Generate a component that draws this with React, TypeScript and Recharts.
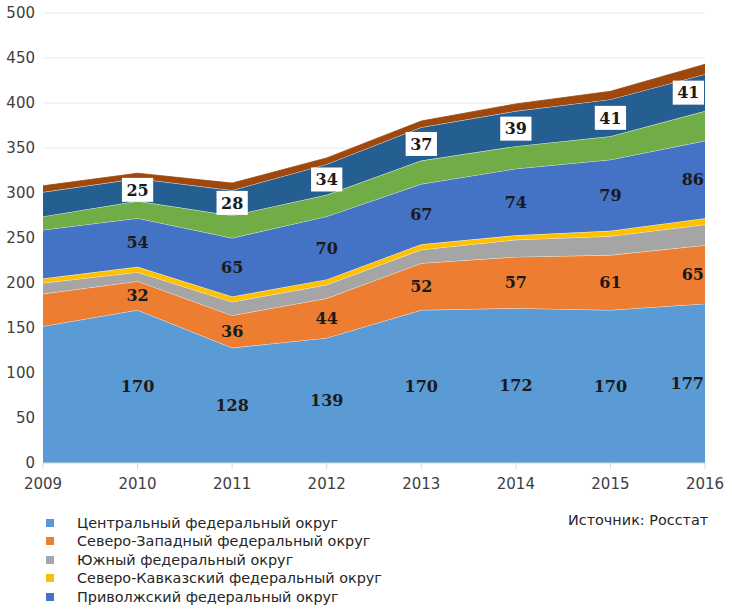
import React from 'react';
import { AreaChart, Area, XAxis, YAxis, CartesianGrid, LabelList } from 'recharts';

const years = ['2009', '2010', '2011', '2012', '2013', '2014', '2015', '2016'];
const central = [152, 170, 128, 139, 170, 172, 170, 177];
const northWest = [36, 32, 36, 44, 52, 57, 61, 65];
const south = [12, 10, 15, 15, 15, 19, 21, 23];
const northCaucasus = [5, 6, 6, 6, 6, 5, 6, 7];
const volga = [54, 54, 65, 70, 67, 74, 79, 86];
const ural = [15, 19, 25, 24, 26, 25, 26, 33];
const siberia = [27, 25, 28, 34, 37, 39, 41, 41];
const farEast = [7, 6, 8, 7, 7, 8, 9, 11];
const yTicks = [0, 50, 100, 150, 200, 250, 300, 350, 400, 450, 500];

const legendNames = [
  'Центральный федеральный округ',
  'Северо-Западный федеральный округ',
  'Южный федеральный округ',
  'Северо-Кавказский федеральный округ',
  'Приволжский федеральный округ',
];
const legendColors = ['#5B9BD5', '#ED7D31', '#A5A5A5', '#FFC000', '#4472C4'];

const data = years.map((y, i) => ({
  year: y,
  central: central[i],
  northWest: northWest[i],
  south: south[i],
  northCaucasus: northCaucasus[i],
  volga: volga[i],
  ural: ural[i],
  siberia: siberia[i],
  farEast: farEast[i],
}));

const W = 732;
const H = 616;
const M = { top: 13, right: 27, left: 0, bottom: 123 };
const Y_AXIS_W = 43;
const X_AXIS_H = 30;
const PLOT_H = H - M.top - M.bottom - X_AXIS_H;
const PLOT_RIGHT = W - M.right;
const Y_MAX = 500;
const LABEL_FS = 16;
const DIGIT_W = LABEL_FS * 0.696;

const makeLabel = (vals: number[], boxed: boolean) => (props: any) => {
  const { x, y, index } = props;
  if (index === 0 || x == null || y == null) return null;
  const v = vals[index];
  const cy = y + (v * (PLOT_H / Y_MAX)) / 2;
  const text = String(v);
  const w = text.length * DIGIT_W;
  const pad = boxed ? 4.5 : 0;
  let cx = x;
  if (cx + w / 2 + pad > PLOT_RIGHT - 1) cx = PLOT_RIGHT - 1 - w / 2 - pad;
  return (
    <g key={`l-${index}`}>
      {boxed && <rect x={cx - w / 2 - pad} y={cy - 12} width={w + pad * 2} height={24} fill="#ffffff" />}
      <text
        x={cx}
        y={cy}
        dy="0.36em"
        textAnchor="middle"
        fontFamily="DejaVu Serif"
        fontWeight="bold"
        fontSize={LABEL_FS}
        fill="#1a1a1a"
      >
        {text}
      </text>
    </g>
  );
};

const textFont = '"DejaVu Sans", Verdana, sans-serif';

export default function App() {
  return (
    <div style={{ position: 'absolute', left: 0, top: 0, width: W, height: H, background: '#fff' }}>
      <AreaChart width={W} height={H} data={data} margin={M}>
        <CartesianGrid vertical={false} stroke="#e8e8e8" />
        <XAxis
          dataKey="year"
          height={X_AXIS_H}
          stroke="#d9d9d9"
          tickSize={6}
          tickMargin={9}
          tick={{ fill: '#404040', fontSize: 15, fontFamily: textFont }}
          interval={0}
        />
        <YAxis
          width={Y_AXIS_W}
          domain={[0, Y_MAX]}
          ticks={yTicks}
          axisLine={false}
          tickLine={false}
          tick={{ fill: '#404040', fontSize: 15, fontFamily: textFont }}
          interval={0}
        />
        <Area type="linear" dataKey="central" stackId="1" fill="#5B9BD5" fillOpacity={1} stroke="#ffffff" strokeWidth={0.8} isAnimationActive={false}>
          <LabelList dataKey="central" content={makeLabel(central, false)} />
        </Area>
        <Area type="linear" dataKey="northWest" stackId="1" fill="#ED7D31" fillOpacity={1} stroke="#ffffff" strokeWidth={0.8} isAnimationActive={false}>
          <LabelList dataKey="northWest" content={makeLabel(northWest, false)} />
        </Area>
        <Area type="linear" dataKey="south" stackId="1" fill="#A5A5A5" fillOpacity={1} stroke="#ffffff" strokeWidth={0.8} isAnimationActive={false} />
        <Area type="linear" dataKey="northCaucasus" stackId="1" fill="#FFC000" fillOpacity={1} stroke="#ffffff" strokeWidth={0.8} isAnimationActive={false} />
        <Area type="linear" dataKey="volga" stackId="1" fill="#4472C4" fillOpacity={1} stroke="#ffffff" strokeWidth={0.8} isAnimationActive={false}>
          <LabelList dataKey="volga" content={makeLabel(volga, false)} />
        </Area>
        <Area type="linear" dataKey="ural" stackId="1" fill="#70AD47" fillOpacity={1} stroke="#ffffff" strokeWidth={0.8} isAnimationActive={false} />
        <Area type="linear" dataKey="siberia" stackId="1" fill="#255E91" fillOpacity={1} stroke="#ffffff" strokeWidth={0.8} isAnimationActive={false}>
          <LabelList dataKey="siberia" content={makeLabel(siberia, true)} />
        </Area>
        <Area type="linear" dataKey="farEast" stackId="1" fill="#9E480E" fillOpacity={1} stroke="#9E480E" strokeWidth={0.8} isAnimationActive={false} />
      </AreaChart>
      {legendNames.map((name, i) => (
        <div
          key={name}
          style={{
            position: 'absolute',
            left: 46,
            top: 522.5 + i * 18.5 - 9,
            height: 18,
            display: 'flex',
            alignItems: 'center',
            fontFamily: textFont,
            fontSize: 14.4,
            color: '#262626',
            whiteSpace: 'nowrap',
          }}
        >
          <span style={{ display: 'inline-block', width: 8, height: 8, background: legendColors[i], marginRight: 23 }} />
          <span>{name}</span>
        </div>
      ))}
      <div
        style={{
          position: 'absolute',
          left: 568,
          top: 511,
          height: 18,
          lineHeight: '18px',
          fontFamily: textFont,
          fontSize: 14.4,
          color: '#262626',
          whiteSpace: 'nowrap',
        }}
      >
        Источник: Росстат
      </div>
    </div>
  );
}
